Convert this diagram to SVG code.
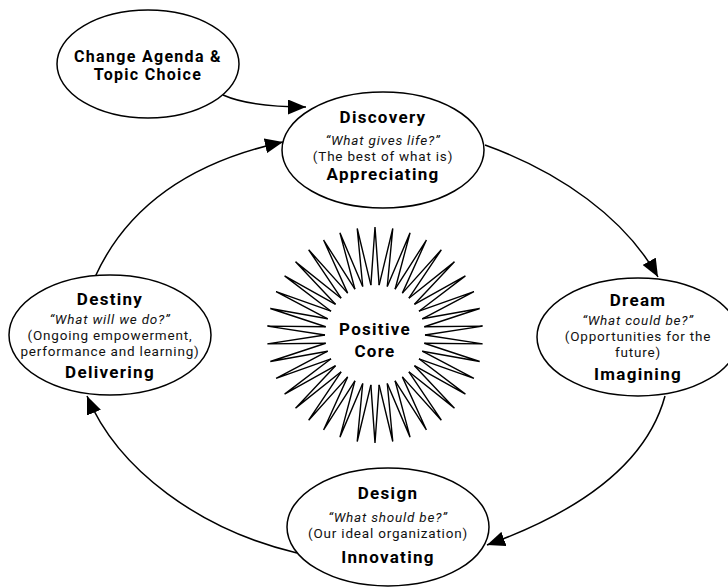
<svg xmlns="http://www.w3.org/2000/svg" xmlns:xlink="http://www.w3.org/1999/xlink" width="728" height="588" viewBox="0 0 728 588">
<style>
  .node { fill: #ffffff; stroke: #000000; stroke-width: 1.5; }
  .title { font-family: Roboto, "Liberation Sans", sans-serif; font-weight: 700; font-size: 17px; letter-spacing: 1.3px; fill: #000; text-anchor: middle; }
  .quote { font-family: Roboto, "Liberation Sans", sans-serif; font-style: italic; font-size: 13.5px; letter-spacing: 0.8px; fill: #111; text-anchor: middle; }
  .desc { font-family: Roboto, "Liberation Sans", sans-serif; font-size: 13.5px; letter-spacing: 0.8px; fill: #111; text-anchor: middle; }
  .conn { fill: none; stroke: #000; stroke-width: 1.5; }
  .spike { fill: none; stroke: #000; stroke-width: 1.4; stroke-linejoin: miter; }
</style>
<defs>
  <marker id="arrowL" viewBox="0 0 18 15" refX="18" refY="7.5" markerWidth="18" markerHeight="15" markerUnits="userSpaceOnUse" orient="auto">
    <path d="M0,0 L18,7.5 L0,15 Z" fill="#000"/>
  </marker>
  <path id="spike" class="spike" d="M-4.13,-49.83 L0,-108 L4.13,-49.83"/>
</defs>
<rect width="728" height="588" fill="#ffffff"/>

<g id="connectors">
  <path class="conn" d="M223,95 Q250,107 306,107" marker-end="url(#arrowL)"/>
  <path class="conn" d="M485,145 C560,172 625,218 658,277" marker-end="url(#arrowL)"/>
  <path class="conn" d="M665,396 C645,470 570,515 487,545" marker-end="url(#arrowL)"/>
  <path class="conn" d="M297,553 C200,530 118,470 87,396" marker-end="url(#arrowL)"/>
  <path class="conn" d="M95,277 C130,200 200,160 283,142" marker-end="url(#arrowL)"/>
</g>

<g id="positive-core">
  <g transform="translate(375,335)">
    <use xlink:href="#spike" transform="rotate(0)"/>
    <use xlink:href="#spike" transform="rotate(9.4737)"/>
    <use xlink:href="#spike" transform="rotate(18.9474)"/>
    <use xlink:href="#spike" transform="rotate(28.4211)"/>
    <use xlink:href="#spike" transform="rotate(37.8947)"/>
    <use xlink:href="#spike" transform="rotate(47.3684)"/>
    <use xlink:href="#spike" transform="rotate(56.8421)"/>
    <use xlink:href="#spike" transform="rotate(66.3158)"/>
    <use xlink:href="#spike" transform="rotate(75.7895)"/>
    <use xlink:href="#spike" transform="rotate(85.2632)"/>
    <use xlink:href="#spike" transform="rotate(94.7368)"/>
    <use xlink:href="#spike" transform="rotate(104.2105)"/>
    <use xlink:href="#spike" transform="rotate(113.6842)"/>
    <use xlink:href="#spike" transform="rotate(123.1579)"/>
    <use xlink:href="#spike" transform="rotate(132.6316)"/>
    <use xlink:href="#spike" transform="rotate(142.1053)"/>
    <use xlink:href="#spike" transform="rotate(151.5789)"/>
    <use xlink:href="#spike" transform="rotate(161.0526)"/>
    <use xlink:href="#spike" transform="rotate(170.5263)"/>
    <use xlink:href="#spike" transform="rotate(180)"/>
    <use xlink:href="#spike" transform="rotate(189.4737)"/>
    <use xlink:href="#spike" transform="rotate(198.9474)"/>
    <use xlink:href="#spike" transform="rotate(208.4211)"/>
    <use xlink:href="#spike" transform="rotate(217.8947)"/>
    <use xlink:href="#spike" transform="rotate(227.3684)"/>
    <use xlink:href="#spike" transform="rotate(236.8421)"/>
    <use xlink:href="#spike" transform="rotate(246.3158)"/>
    <use xlink:href="#spike" transform="rotate(255.7895)"/>
    <use xlink:href="#spike" transform="rotate(265.2632)"/>
    <use xlink:href="#spike" transform="rotate(274.7368)"/>
    <use xlink:href="#spike" transform="rotate(284.2105)"/>
    <use xlink:href="#spike" transform="rotate(293.6842)"/>
    <use xlink:href="#spike" transform="rotate(303.1579)"/>
    <use xlink:href="#spike" transform="rotate(312.6316)"/>
    <use xlink:href="#spike" transform="rotate(322.1053)"/>
    <use xlink:href="#spike" transform="rotate(331.5789)"/>
    <use xlink:href="#spike" transform="rotate(341.0526)"/>
    <use xlink:href="#spike" transform="rotate(350.5263)"/>
  </g>
  <text class="title" x="375" y="335">Positive</text>
  <text class="title" x="375" y="357">Core</text>
</g>

<g id="change-agenda">
  <ellipse class="node" cx="148" cy="64" rx="91" ry="54"/>
  <text class="title" x="148" y="62" style="font-size:16px">Change Agenda &amp;</text>
  <text class="title" x="148" y="80" style="font-size:16px">Topic Choice</text>
</g>

<g id="discovery">
  <ellipse class="node" cx="383" cy="150" rx="101" ry="58"/>
  <text class="title" x="383" y="123">Discovery</text>
  <text class="quote" x="383" y="145">“What gives life?”</text>
  <text class="desc" x="383" y="161">(The best of what is)</text>
  <text class="title" x="383" y="180">Appreciating</text>
</g>

<g id="dream">
  <ellipse class="node" cx="638" cy="337" rx="101" ry="59"/>
  <text class="title" x="638" y="306">Dream</text>
  <text class="quote" x="638" y="325">“What could be?”</text>
  <text class="desc" x="638" y="341">(Opportunities for the</text>
  <text class="desc" x="638" y="357">future)</text>
  <text class="title" x="638" y="380">Imagining</text>
</g>

<g id="design">
  <ellipse class="node" cx="388" cy="527" rx="101" ry="59"/>
  <text class="title" x="388" y="499">Design</text>
  <text class="quote" x="388" y="522">“What should be?”</text>
  <text class="desc" x="388" y="538">(Our ideal organization)</text>
  <text class="title" x="388" y="563">Innovating</text>
</g>

<g id="destiny">
  <ellipse class="node" cx="110" cy="335" rx="101" ry="60"/>
  <text class="title" x="110" y="305">Destiny</text>
  <text class="quote" x="110" y="324">“What will we do?”</text>
  <text class="desc" x="110" y="340">(Ongoing empowerment,</text>
  <text class="desc" x="110" y="356">performance and learning)</text>
  <text class="title" x="110" y="378">Delivering</text>
</g>
</svg>
